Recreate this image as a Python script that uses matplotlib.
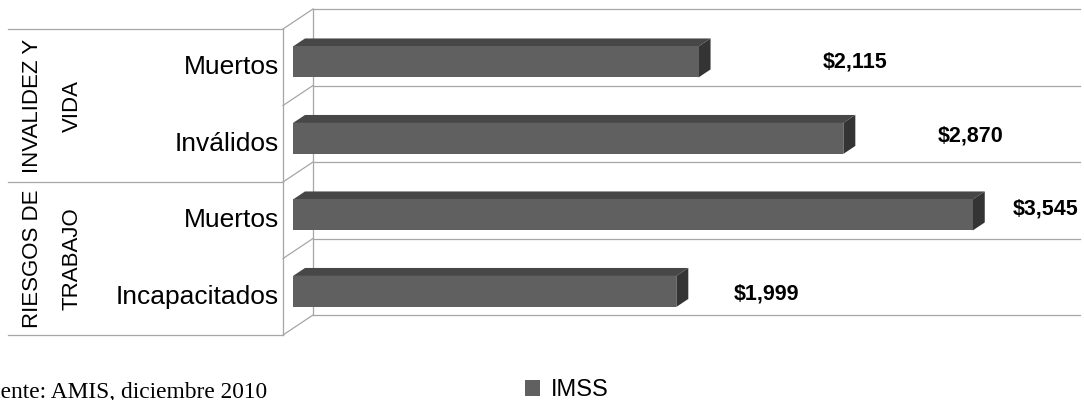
import matplotlib
matplotlib.use("Agg")
import matplotlib.pyplot as plt
import numpy as np
from matplotlib.patches import Polygon
from matplotlib.transforms import Affine2D, IdentityTransform, blended_transform_factory

# ---- data -------------------------------------------------------------
categories = ["Muertos", "Inválidos", "Muertos", "Incapacitados"]
values = [2115, 2870, 3545, 1999]
group_names = [("INVALIDEZ Y", "VIDA"), ("RIESGOS DE", "TRABAJO")]
group_members = [[0, 1], [2, 3]]
series_name = "IMSS"
source_note = "Fuente: AMIS, diciembre 2010"
x_max = 4000

# ---- styling / layout -------------------------------------------------
W, H = 1084, 400
SANS = ["Liberation Sans", "DejaVu Sans"]
NARROW = ["Liberation Sans Narrow", "Liberation Sans", "DejaVu Sans"]
SERIF = ["Liberation Serif", "DejaVu Serif"]
front_color = "#606060"
top_color = "#474747"
side_color = "#343434"
grid_kw = dict(color="#a6a6a6", lw=0.9, clip_on=False, zorder=1)

wall_depth = (30, 20)      # px offset of the back wall
bar_front = (10, 5.3)      # px offset of the bar front face
bar_depth = (12, 8)        # px depth of each bar
bar_h = 0.405
label_offsets_px = [(134, 5), (104, 7.5), (50, 11), (67, 2.5)]

fig = plt.figure(figsize=(W / 100, H / 100), dpi=100)
front_left, front_right, front_top, front_bottom = 283, 1050, 29, 335
ax = fig.add_axes([front_left / W, 1 - front_bottom / H,
                   (front_right - front_left) / W, (front_bottom - front_top) / H])
n = len(categories)
ax.set_xlim(0, x_max)
ax.set_ylim(-0.5, n - 0.5)
ax.set_autoscale_on(False)
ax.axis("off")

ypos = np.arange(n)[::-1]          # first category on top
bounds = np.arange(n + 1) - 0.5


def shifted(dx, dy):
    return ax.transData + Affine2D().translate(dx, dy)


back = shifted(*wall_depth)
ident = IdentityTransform()

# walls: back wall grid, side wall edges and diagonals
for b in bounds:
    ax.plot([0, x_max], [b, b], transform=back, **grid_kw)
    px, py = ax.transData.transform((0, b))
    ax.plot([px, px + wall_depth[0]], [py, py + wall_depth[1]], transform=ident, **grid_kw)
ax.plot([0, 0], [bounds[0], bounds[-1]], transform=ax.transData, **grid_kw)
ax.plot([0, 0], [bounds[0], bounds[-1]], transform=back, **grid_kw)

# bars: front faces through the axes scale, then top and side faces
bars = ax.barh(ypos, values, height=bar_h, color=front_color, label=series_name,
               transform=shifted(*bar_front), zorder=4, clip_on=False)
fx, fy = bar_front
bx, by = bar_front[0] + bar_depth[0], bar_front[1] + bar_depth[1]
for y, v in zip(ypos, values):
    x0, yt = ax.transData.transform((0, y + bar_h / 2))
    x1, yb = ax.transData.transform((v, y - bar_h / 2))
    top = [(x0 + fx, yt + fy), (x1 + fx, yt + fy), (x1 + bx, yt + by), (x0 + bx, yt + by)]
    side = [(x1 + fx, yt + fy), (x1 + bx, yt + by), (x1 + bx, yb + by), (x1 + fx, yb + fy)]
    ax.add_patch(Polygon(top, closed=True, facecolor=top_color, edgecolor="none",
                         transform=ident, clip_on=False, zorder=3))
    ax.add_patch(Polygon(side, closed=True, facecolor=side_color, edgecolor="none",
                         transform=ident, clip_on=False, zorder=3))

# value labels
for y, v, (dx, dy) in zip(ypos, values, label_offsets_px):
    ax.text(v, y, f"${v:,}", transform=shifted(dx, dy), ha="left", va="center",
            fontsize=15.5, fontweight="bold", family=SANS, clip_on=False)

# category labels
for y, c in zip(ypos, categories):
    ax.text(0, y, c, transform=shifted(-4, 0), ha="right", va="center",
            fontsize=19, family=SANS, clip_on=False)

# group labels and separators on the left
blend = blended_transform_factory(ident, ax.transData)
for (line1, line2), members in zip(group_names, group_members):
    yc = np.mean(ypos[members])
    ax.text(32, yc, line1, transform=blend, rotation=90, ha="center", va="center",
            fontsize=16, family=NARROW, clip_on=False)
    ax.text(72, yc, line2, transform=blend, rotation=90, ha="center", va="center",
            fontsize=16, family=NARROW, clip_on=False)
for b in [bounds[0], bounds[2], bounds[-1]]:
    ax.plot([8, front_left], [b, b], transform=blend, **grid_kw)

# legend and source note
fig.legend(handles=[bars], labels=[series_name], loc="center left",
           bbox_to_anchor=(525 / W, 1 - 390 / H), frameon=False,
           prop=dict(family=SANS, size=17), handlelength=0.64, handleheight=0.64,
           handletextpad=0.47, borderpad=0, borderaxespad=0)
fig.text(267 / W, 1 - 398 / H, source_note, ha="right", va="baseline",
         family=SERIF, fontsize=16.8)

fig.savefig("out.png", dpi=100)
